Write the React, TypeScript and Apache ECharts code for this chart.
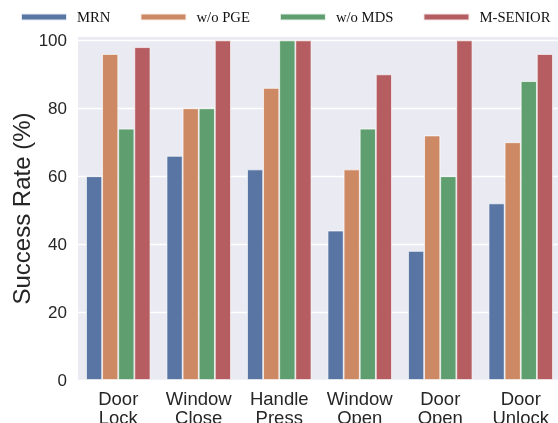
import React, { useEffect, useRef } from "react";
import * as echarts from "echarts";

const categories = ["Door\nLock", "Window\nClose", "Handle\nPress", "Window\nOpen", "Door\nOpen", "Door\nUnlock"];
const seriesNames = ["MRN", "w/o PGE", "w/o MDS", "M-SENIOR"];
const mrn = [60, 66, 62, 44, 38, 52];
const woPGE = [96, 80, 86, 62, 72, 70];
const woMDS = [74, 80, 100, 74, 60, 88];
const mSenior = [98, 100, 100, 90, 100, 96];
const yTicks = [0, 20, 40, 60, 80, 100];
const colors = ["#5875a4", "#cc8963", "#5f9e6e", "#b55d60"];

export default function App() {
  const ref = useRef<HTMLDivElement>(null);
  useEffect(() => {
    if (!ref.current) return;
    const chart = echarts.init(ref.current, undefined, { renderer: "svg" });
    const values = [mrn, woPGE, woMDS, mSenior];
    chart.setOption({
      animation: false,
      color: colors,
      legend: {
        data: seriesNames,
        left: 20,
        top: 8,
        padding: 0,
        icon: "rect",
        itemWidth: 46,
        itemHeight: 7,
        itemGap: 29,
        textStyle: {
          fontFamily: "Liberation Serif",
          fontSize: 14.7,
          color: "#111",
          lineHeight: 16,
          padding: [0, 0, 2, 5],
        },
      },
      grid: {
        left: 78,
        right: -3,
        top: 40.4,
        bottom: 43,
        containLabel: false,
        outerBoundsMode: "none",
        show: true,
        backgroundColor: "#eaeaf2",
        borderWidth: 0,
      },
      graphic: [
        {
          type: "rect",
          shape: { x: 78, y: 37, width: 483, height: 3.6 },
          style: { fill: "#eaeaf2" },
          z: -1,
        },
        {
          type: "text",
          x: 21,
          y: 208.5,
          rotation: Math.PI / 2,
          style: {
            text: "Success Rate (%)",
            fontFamily: "Liberation Sans",
            fontSize: 24,
            fill: "#262626",
            textAlign: "center",
            textVerticalAlign: "middle",
          },
        },
      ],
      xAxis: {
        type: "category",
        data: categories,
        axisLine: { show: false },
        axisTick: { show: false },
        splitLine: { show: false },
        axisLabel: {
          interval: 0,
          fontFamily: "Liberation Sans",
          fontSize: 18.5,
          lineHeight: 19,
          color: "#262626",
          margin: 9,
        },
      },
      yAxis: {
        type: "value",
        min: yTicks[0],
        max: yTicks[yTicks.length - 1],
        interval: 20,
        axisLine: { show: false },
        axisTick: { show: false },
        splitLine: { show: true, lineStyle: { color: "#ffffff", width: 1.3 } },
        axisLabel: {
          fontFamily: "Liberation Sans",
          fontSize: 17,
          color: "#262626",
          margin: 11,
        },
      },
      series: seriesNames.map((name, i) => ({
        name,
        type: "bar",
        data: values[i],
        barWidth: "20%",
        barGap: "0%",
        itemStyle: { color: colors[i], borderColor: "rgba(255,255,255,0.85)", borderWidth: 0.8 },
      })),
    });
    return () => chart.dispose();
  }, []);
  return <div ref={ref} style={{ position: "fixed", left: 0, top: 0, width: 558, height: 423 }} />;
}
